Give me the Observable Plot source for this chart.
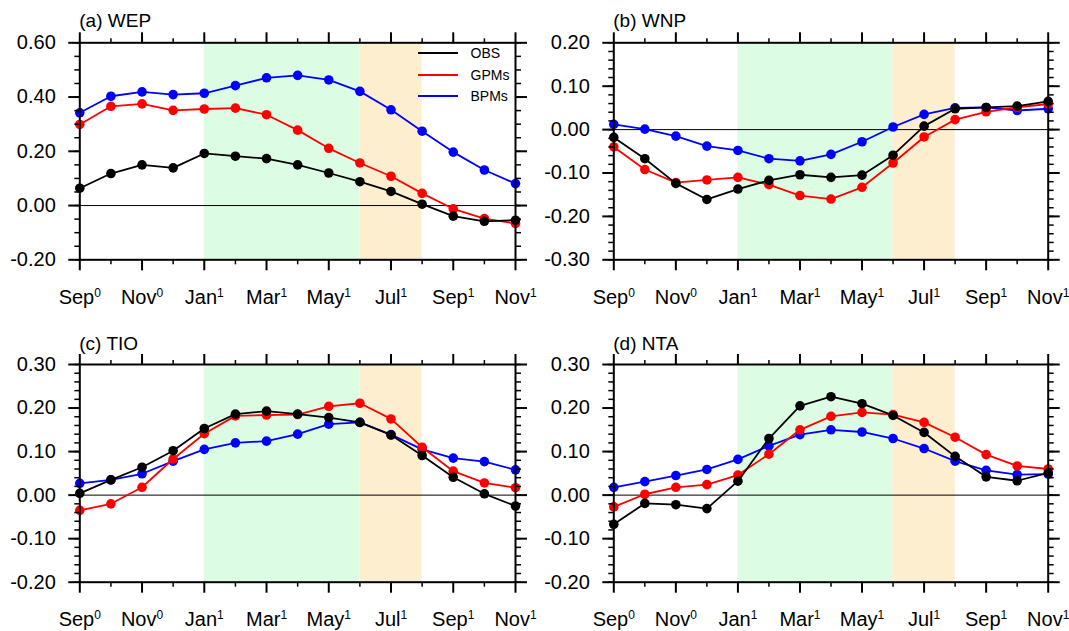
<!DOCTYPE html>
<html>
<head>
<meta charset="utf-8">
<script src="https://cdn.jsdelivr.net/npm/d3@7"></script>
<script src="https://cdn.jsdelivr.net/npm/@observablehq/plot@0.6"></script>
<style>
  body { margin: 0; background: #fff; }
  #chart { position: relative; width: 1069px; height: 631px; font-family: "Liberation Sans", Arial, sans-serif; background: #fff; overflow: hidden; }
  .panel { position: absolute; }
  .panel svg { overflow: visible; }
  .title { position: absolute; font-size: 19px; line-height: 19px; white-space: nowrap; color: #000; }
  .leg-line { position: absolute; height: 0; border-top: 2px solid; width: 40px; }
  .leg-text { position: absolute; font-size: 14px; line-height: 14px; white-space: nowrap; color: #000; }
</style>
</head>
<body>
<div id="chart"></div>
<script>
// ---------- data ----------
const months = ["Sep⁰","Oct⁰","Nov⁰","Dec⁰","Jan¹","Feb¹","Mar¹","Apr¹","May¹","Jun¹","Jul¹","Aug¹","Sep¹","Oct¹","Nov¹"];
const seriesNames = ["OBS", "GPMs", "BPMs"];
const seriesColors = ["#000000", "#ff0000", "#0000ff"];
const panelTitles = ["(a) WEP", "(b) WNP", "(c) TIO", "(d) NTA"];

// green period Jan¹–Jun¹, orange period Jun¹–Aug¹
const periodStart = ["Jan¹", "Jun¹"];
const periodEnd   = ["Jun¹", "Aug¹"];
const periodColors = ["#dcfce3", "#fdeecf"];

const wepObs  = [0.064, 0.118, 0.150, 0.139, 0.192, 0.182, 0.173, 0.150, 0.120, 0.088, 0.052, 0.005, -0.039, -0.058, -0.054];
const wepGpms = [0.299, 0.366, 0.375, 0.351, 0.356, 0.359, 0.335, 0.278, 0.211, 0.157, 0.108, 0.045, -0.012, -0.048, -0.066];
const wepBpms = [0.342, 0.403, 0.419, 0.409, 0.414, 0.442, 0.471, 0.480, 0.463, 0.421, 0.353, 0.274, 0.197, 0.131, 0.081];

const wnpObs  = [-0.018, -0.067, -0.124, -0.161, -0.137, -0.117, -0.104, -0.110, -0.105, -0.059, 0.008, 0.048, 0.051, 0.054, 0.065];
const wnpGpms = [-0.040, -0.092, -0.122, -0.116, -0.110, -0.127, -0.152, -0.160, -0.133, -0.077, -0.017, 0.023, 0.041, 0.051, 0.059];
const wnpBpms = [0.012, 0.001, -0.015, -0.038, -0.048, -0.067, -0.072, -0.057, -0.028, 0.006, 0.035, 0.050, 0.051, 0.044, 0.048];

const tioObs  = [0.004, 0.035, 0.064, 0.102, 0.153, 0.186, 0.193, 0.186, 0.178, 0.167, 0.138, 0.091, 0.041, 0.003, -0.025];
const tioGpms = [-0.035, -0.020, 0.018, 0.083, 0.141, 0.182, 0.184, 0.185, 0.204, 0.211, 0.175, 0.110, 0.055, 0.028, 0.017];
const tioBpms = [0.027, 0.035, 0.049, 0.078, 0.105, 0.120, 0.124, 0.140, 0.163, 0.167, 0.139, 0.105, 0.085, 0.077, 0.058];

const ntaObs  = [-0.067, -0.019, -0.022, -0.031, 0.032, 0.130, 0.205, 0.226, 0.210, 0.183, 0.144, 0.089, 0.042, 0.033, 0.051];
const ntaGpms = [-0.027, 0.002, 0.018, 0.024, 0.046, 0.094, 0.150, 0.181, 0.190, 0.185, 0.167, 0.133, 0.093, 0.067, 0.060];
const ntaBpms = [0.018, 0.031, 0.045, 0.059, 0.082, 0.113, 0.139, 0.150, 0.145, 0.130, 0.107, 0.078, 0.057, 0.047, 0.048];

const yDomains = [[-0.2, 0.6], [-0.3, 0.2], [-0.2, 0.3], [-0.2, 0.3]];
const yMajorTicks = [
  [-0.2, 0.0, 0.2, 0.4, 0.6],
  [-0.3, -0.2, -0.1, 0.0, 0.1, 0.2],
  [-0.2, -0.1, 0.0, 0.1, 0.2, 0.3],
  [-0.2, -0.1, 0.0, 0.1, 0.2, 0.3]
];
const yMinorSteps = [0.05, 0.02, 0.02, 0.02];

const panelSeries = [
  [wepObs, wepGpms, wepBpms],
  [wnpObs, wnpGpms, wnpBpms],
  [tioObs, tioGpms, tioBpms],
  [ntaObs, ntaGpms, ntaBpms]
];

// ---------- layout ----------
const layout = [
  {left: 0,   top: 0,   width: 534, height: 310, mt: 42.3, mb: 50.7, ml: 79.3, mr: 19,   titleTop: 11},
  {left: 534, top: 0,   width: 535, height: 310, mt: 42.3, mb: 50.7, ml: 79.3, mr: 21.3, titleTop: 11},
  {left: 0,   top: 320, width: 534, height: 311, mt: 44,   mb: 49.3, ml: 79.3, mr: 19,   titleTop: 333.5},
  {left: 534, top: 320, width: 535, height: 311, mt: 44,   mb: 49.3, ml: 79.3, mr: 21.3, titleTop: 333.5}
];

const chart = document.getElementById("chart");
const svgNS = "http://www.w3.org/2000/svg";
const idx = months.map((m, i) => i);
const xMajor = idx.filter(i => i % 2 === 0);
const xMinor = idx.filter(i => i % 2 === 1);
const periods = periodStart.map((s, k) => ({x1: months.indexOf(s), x2: months.indexOf(periodEnd[k]), color: periodColors[k]}));
const supMap = {"⁰": "0", "¹": "1"};

panelSeries.forEach((series, p) => {
  const L = layout[p];
  const [lo, hi] = yDomains[p];
  const step = yMinorSteps[p];
  const nMinor = Math.round((hi - lo) / step);
  const yMinor = d3.range(nMinor + 1).map(k => +(lo + k * step).toFixed(4));

  const marks = [];
  periods.forEach(pr => {
    marks.push(Plot.rect([pr], {x1: "x1", x2: "x2", fill: pr.color}));
  });
  marks.push(Plot.ruleY([0], {stroke: "#000", strokeWidth: 1}));
  // draw BPMs, GPMs, then OBS on top
  [2, 1, 0].forEach(s => {
    const rows = series[s].map((v, i) => ({i, v}));
    marks.push(Plot.line(rows, {x: "i", y: "v", stroke: seriesColors[s], strokeWidth: 1.8}));
    marks.push(Plot.dot(rows, {x: "i", y: "v", fill: seriesColors[s], r: 4.8, stroke: "none"}));
  });
  marks.push(Plot.frame({stroke: "#000", strokeWidth: 2}));
  // axes: x bottom / top
  marks.push(Plot.axisX({anchor: "bottom", ticks: xMajor, tickSize: 11, tickPadding: 18.5, tickFormat: i => months[i], strokeWidth: 2, fontSize: 20, label: null}));
  marks.push(Plot.axisX({anchor: "bottom", ticks: xMinor, tickSize: 5, tickFormat: () => "", strokeWidth: 1.5, label: null}));
  marks.push(Plot.axisX({anchor: "top", ticks: xMajor, tickSize: 11, tickFormat: () => "", strokeWidth: 2, label: null}));
  marks.push(Plot.axisX({anchor: "top", ticks: xMinor, tickSize: 5, tickFormat: () => "", strokeWidth: 1.5, label: null}));
  // axes: y left / right
  marks.push(Plot.axisY({anchor: "left", ticks: yMajorTicks[p], tickSize: 11, tickPadding: 13, tickFormat: d => d.toFixed(2), strokeWidth: 2, fontSize: 20, label: null}));
  marks.push(Plot.axisY({anchor: "left", ticks: yMinor, tickSize: 5, tickFormat: () => "", strokeWidth: 1.5, label: null}));
  marks.push(Plot.axisY({anchor: "right", ticks: yMajorTicks[p], tickSize: 11, tickFormat: () => "", strokeWidth: 2, label: null}));
  marks.push(Plot.axisY({anchor: "right", ticks: yMinor, tickSize: 5, tickFormat: () => "", strokeWidth: 1.5, label: null}));

  const plot = Plot.plot({
    width: L.width,
    height: L.height,
    marginTop: L.mt,
    marginBottom: L.mb,
    marginLeft: L.ml,
    marginRight: L.mr,
    x: {domain: [0, months.length - 1]},
    y: {domain: yDomains[p]},
    style: {fontFamily: "'Liberation Sans', Arial, sans-serif", fontSize: "20px", color: "#000", background: "transparent", overflow: "visible"},
    marks
  });

  // render month superscripts (⁰ / ¹) as raised small digits
  plot.querySelectorAll("text").forEach(t => {
    const m = t.textContent.match(/^(.*?)([⁰¹])$/);
    if (!m) return;
    t.textContent = "";
    const a = document.createElementNS(svgNS, "tspan");
    a.textContent = m[1];
    const b = document.createElementNS(svgNS, "tspan");
    b.setAttribute("font-size", "12");
    b.setAttribute("dy", "-6.5");
    b.textContent = supMap[m[2]];
    t.appendChild(a);
    t.appendChild(b);
  });

  const div = document.createElement("div");
  div.className = "panel";
  div.style.left = L.left + "px";
  div.style.top = L.top + "px";
  div.style.width = L.width + "px";
  div.style.height = L.height + "px";
  div.appendChild(plot);
  chart.appendChild(div);

  const t = document.createElement("div");
  t.className = "title";
  t.textContent = panelTitles[p];
  t.style.left = (L.left + L.ml) + "px";
  t.style.top = L.titleTop + "px";
  chart.appendChild(t);
});

// legend (panel a, top right)
seriesNames.forEach((name, s) => {
  const yc = 53.3 + s * 21.5;
  const ln = document.createElement("div");
  ln.className = "leg-line";
  ln.style.borderTopColor = seriesColors[s];
  ln.style.left = "418px";
  ln.style.top = (yc - 1) + "px";
  chart.appendChild(ln);
  const tx = document.createElement("div");
  tx.className = "leg-text";
  tx.textContent = name;
  tx.style.left = "470.5px";
  tx.style.top = (yc - 7) + "px";
  chart.appendChild(tx);
});
</script>
</body>
</html>
